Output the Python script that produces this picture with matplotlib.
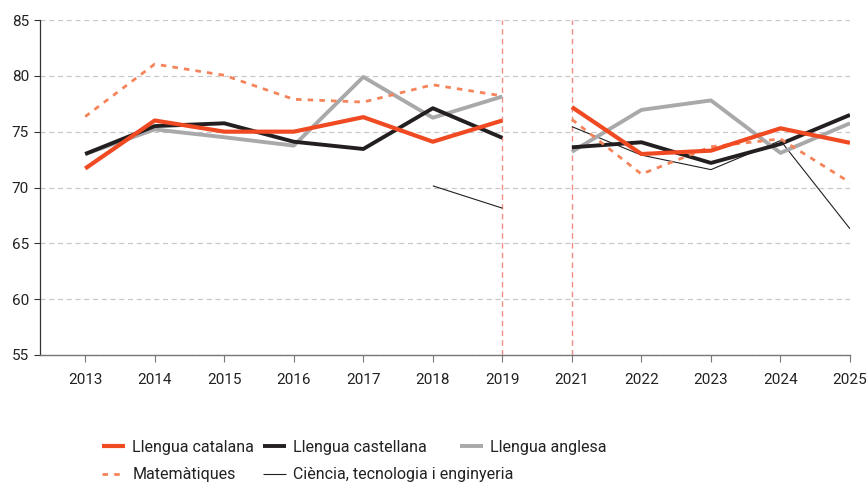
import matplotlib
matplotlib.use("Agg")
import matplotlib.pyplot as plt
import numpy as np

plt.rcParams['font.family'] = ['Roboto', 'DejaVu Sans']

# Dades (percentatge, llegit del gràfic)
years = ['2013', '2014', '2015', '2016', '2017', '2018', '2019',
         '2021', '2022', '2023', '2024', '2025']
catalana = [71.7, 76.0, 75.0, 75.0, 76.3, 74.1, 76.0,
            77.2, 73.0, 73.3, 75.3, 74.0]
castellana = [73.0, 75.5, 75.75, 74.1, 73.45, 77.1, 74.45,
              73.6, 74.05, 72.2, 73.9, 76.5]
anglesa = [73.0, 75.2, 74.5, 73.75, 79.9, 76.25, 78.15,
           73.2, 76.95, 77.8, 73.1, 75.75]
matematiques = [76.35, 81.05, 80.05, 77.9, 77.65, 79.2, 78.2,
                76.1, 71.2, 73.65, 74.35, 70.45]
ciencia = [None, None, None, None, None, 70.15, 68.15,
           75.45, 72.9, 71.6, 74.2, 66.3]

# dos períodes separats (no hi ha 2020)
periods = [range(0, 7), range(7, 12)]

series = [
    ('Llengua catalana', catalana, dict(color='#f04a23', lw=3.0, zorder=6)),
    ('Llengua castellana', castellana, dict(color='#231f20', lw=2.8, zorder=4)),
    ('Llengua anglesa', anglesa, dict(color='#a9a9ab', lw=2.8, zorder=3)),
    ('Matemàtiques', matematiques, dict(color='#f5845a', lw=2.0, ls=(0, (2, 2.2)), zorder=5)),
    ('Ciència, tecnologia i enginyeria', ciencia, dict(color='#231f20', lw=0.8, zorder=2)),
]

fig = plt.figure(figsize=(8.67, 4.83), dpi=100)
ax = fig.add_axes([40 / 867, 1 - 355 / 483, 810 / 867, 335 / 483])

x = np.arange(len(years))
handles = []
for name, vals, style in series:
    h = None
    for p in periods:
        xs = [x[i] for i in p if vals[i] is not None]
        ys = [vals[i] for i in p if vals[i] is not None]
        h, = ax.plot(xs, ys, solid_capstyle='butt', label=name, **style)
    handles.append(h)

# línies verticals de separació
for yr in ['2019', '2021']:
    ax.axvline(years.index(yr), color='#f28b82', lw=1.0, ls=(0, (4, 3)), zorder=1)

ax.set_ylim(55, 85)
ax.set_xlim(-0.65, len(years) - 1)
ax.set_yticks([55, 60, 65, 70, 75, 80, 85])
ax.set_xticks(x)
ax.set_xticklabels(years)
ax.yaxis.grid(True, color='#c8c8c8', ls=(0, (4, 3)), lw=0.9)
ax.set_axisbelow(True)

for s in ['top', 'right']:
    ax.spines[s].set_visible(False)
ax.spines['left'].set_color('#333333')
ax.spines['left'].set_linewidth(0.9)
ax.spines['bottom'].set_color('#777777')
ax.spines['bottom'].set_linewidth(1.0)
ax.tick_params(axis='x', length=5, color='#777777', pad=8, labelsize=11, labelcolor='#222222')
ax.tick_params(axis='y', length=4, color='#333333', pad=4, labelsize=11, labelcolor='#222222')

# llegenda en tres columnes col·locades a mà
cols = [(102, [0, 3]), (263, [1, 4]), (460, [2])]
for xpix, idx in cols:
    leg = fig.legend([handles[i] for i in idx], [series[i][0] for i in idx],
                     loc='upper left', bbox_to_anchor=(xpix / 867, 1 - 440 / 483),
                     frameon=False, borderpad=0, borderaxespad=0,
                     handlelength=1.45, handletextpad=0.45, labelspacing=0.78,
                     prop={'size': 11.5})
    for t in leg.get_texts():
        t.set_color('#222222')

fig.savefig('out.png', dpi=100)
